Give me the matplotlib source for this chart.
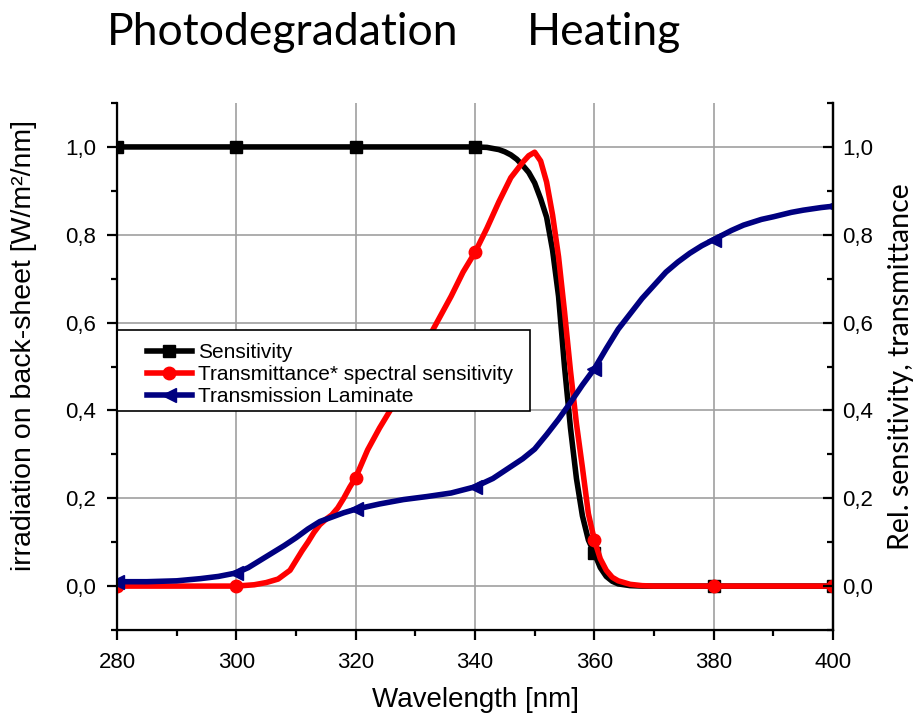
import matplotlib
matplotlib.use('Agg')
from matplotlib import pyplot as plt
from matplotlib.patches import Rectangle
from matplotlib.ticker import MultipleLocator, FuncFormatter

# Sensitivity (black, squares)
sens_wl = [280, 300, 320, 340, 342, 344, 345, 346, 347, 348, 349, 350, 351, 352, 353,
           354, 355, 356, 357, 358, 359, 360, 361, 362, 363, 364, 366, 368, 370, 380, 400]
sens_val = [1.0, 1.0, 1.0, 1.0, 0.999, 0.994, 0.989, 0.982, 0.972, 0.958, 0.942, 0.918, 0.882,
            0.84, 0.765, 0.66, 0.50, 0.36, 0.245, 0.16, 0.105, 0.075, 0.042, 0.022, 0.011,
            0.005, 0.001, 0.0, 0.0, 0.0, 0.0]

# Transmittance * spectral sensitivity (red, circles)
red_wl = [280, 290, 300, 303, 305, 307, 309, 310, 311, 312, 313, 314, 315, 316, 317, 318,
          319, 320, 322, 324, 326, 328, 330, 332, 334, 336, 338, 340, 342, 344, 346, 348,
          349, 350, 351, 352, 353, 354, 355, 356, 357, 358, 359, 360, 361, 362, 363, 364,
          366, 368, 370, 380, 400]
red_val = [0.0, 0.0, 0.0, 0.003, 0.008, 0.016, 0.036, 0.058, 0.08, 0.10, 0.122, 0.14, 0.152,
           0.162, 0.178, 0.20, 0.225, 0.247, 0.31, 0.36, 0.405, 0.45, 0.50, 0.56, 0.61, 0.66,
           0.715, 0.76, 0.815, 0.875, 0.93, 0.965, 0.98, 0.988, 0.968, 0.92, 0.845, 0.75,
           0.625, 0.49, 0.37, 0.27, 0.165, 0.105, 0.062, 0.036, 0.02, 0.012, 0.004, 0.001,
           0.0, 0.0, 0.0]

# Transmission laminate (navy, triangles)
lam_wl = [280, 285, 290, 294, 297, 300, 302, 305, 308, 310, 312, 314, 316, 318, 320, 324,
          328, 332, 336, 340, 343, 346, 348, 350, 352, 354, 356, 358, 360, 362, 364, 366,
          368, 370, 372, 374, 376, 378, 380, 383, 385, 388, 390, 393, 395, 398, 400]
lam_val = [0.010, 0.010, 0.012, 0.017, 0.022, 0.030, 0.042, 0.067, 0.092, 0.11, 0.13, 0.147,
           0.157, 0.167, 0.175, 0.187, 0.197, 0.204, 0.212, 0.226, 0.245, 0.272, 0.29, 0.312,
           0.345, 0.38, 0.418, 0.458, 0.495, 0.541, 0.585, 0.62, 0.655, 0.685, 0.715, 0.738,
           0.758, 0.775, 0.789, 0.81, 0.822, 0.835, 0.841, 0.851, 0.856, 0.862, 0.865]

marker_wl = [280, 300, 320, 340, 360, 380, 400]


def marks(wl):
    return [i for i, w in enumerate(wl) if w in marker_wl]


plt.rcParams['font.family'] = ['Liberation Sans', 'DejaVu Sans']

fig = plt.figure(figsize=(9.14, 7.2), dpi=100)
ax = fig.add_axes([0.128, 0.125, 0.7834, 0.7319])

ax.plot(sens_wl, sens_val, color='black', lw=4, marker='s', ms=8,
        markevery=marks(sens_wl), label='Sensitivity', zorder=3)
ax.plot(red_wl, red_val, color='#ff0000', lw=4, marker='o', ms=9,
        markevery=marks(red_wl), label='Transmittance* spectral sensitivity', zorder=4)
ax.plot(lam_wl, lam_val, color='#000080', lw=4, marker='<', ms=10,
        markevery=marks(lam_wl), label='Transmission Laminate', zorder=5)

ax.set_xlim(280, 400)
ax.set_ylim(-0.1, 1.1)
ax.xaxis.set_major_locator(MultipleLocator(20))
ax.xaxis.set_minor_locator(MultipleLocator(10))
ax.yaxis.set_major_locator(MultipleLocator(0.2))
ax.yaxis.set_minor_locator(MultipleLocator(0.1))
comma = FuncFormatter(lambda v, p: ('%.1f' % v).replace('.', ','))
ax.yaxis.set_major_formatter(comma)
ax.grid(True, which='major', color='#a0a0a0', lw=1.2)
ax.set_axisbelow(True)

ax.spines['top'].set_visible(False)
for s in ['left', 'bottom', 'right']:
    ax.spines[s].set_linewidth(1.6)
ax.tick_params(which='both', direction='out', width=1.6, labelsize=16, right=False)
ax.tick_params(axis='x', which='major', length=7, pad=9)
ax.tick_params(axis='y', which='major', length=7, pad=8)
ax.tick_params(which='minor', length=4)

ax2 = ax.twinx()
ax2.set_ylim(-0.1, 1.1)
ax2.yaxis.set_major_locator(MultipleLocator(0.2))
ax2.yaxis.set_minor_locator(MultipleLocator(0.1))
ax2.yaxis.set_major_formatter(comma)
ax2.spines['top'].set_visible(False)
ax2.spines['right'].set_linewidth(1.6)
ax2.tick_params(which='both', direction='in', width=1.6, labelsize=16, pad=6.5)
ax2.tick_params(which='major', length=7)
ax2.tick_params(which='minor', length=4)

ax.set_xlabel('Wavelength [nm]', fontsize=20)
ax.xaxis.set_label_coords(0.5, -0.108)
ax.set_ylabel('irradiation on back-sheet [W/m²/nm]', fontsize=20.5)
ax.yaxis.set_label_coords(-0.112, 0.54)
ax2.set_ylabel('Rel. sensitivity, transmittance', fontsize=20.5, family='Lato')
ax2.yaxis.set_label_coords(1.077, 0.5)

# legend frame drawn separately so the padding matches the original box
ax.add_patch(Rectangle((0.0, 0.4156), 0.577, 0.1534, transform=ax.transAxes,
                       facecolor='white', edgecolor='black', lw=1.2, zorder=9,
                       clip_on=False))
leg = ax.legend(loc='upper left', bbox_to_anchor=(0.042, 0.545), borderaxespad=0,
                borderpad=0, fontsize=15, frameon=False, labelspacing=0.15,
                handlelength=2.15, handletextpad=0.3)
leg.set_zorder(10)

fig.text(107 / 914, 1 - 45 / 720, 'Photodegradation', fontsize=32, family='Lato', va='baseline')
fig.text(527 / 914, 1 - 45 / 720, 'Heating', fontsize=32, family='Lato', va='baseline')

fig.savefig('out.png', dpi=100)
